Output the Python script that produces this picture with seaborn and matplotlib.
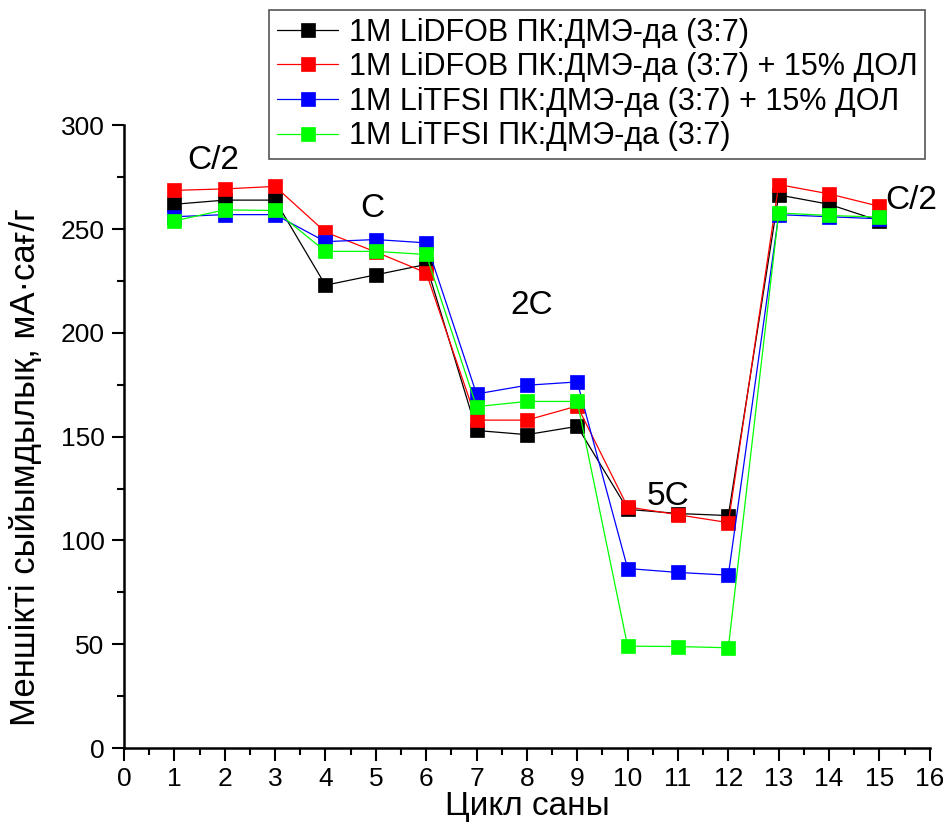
import matplotlib
matplotlib.use("Agg")
import matplotlib.pyplot as plt
import seaborn as sns
import pandas as pd
from matplotlib.ticker import MultipleLocator

cycles = list(range(1, 16))
labels = [
    "1M LiDFOB ПК:ДМЭ-да (3:7)",
    "1M LiDFOB ПК:ДМЭ-да (3:7) + 15% ДОЛ",
    "1M LiTFSI ПК:ДМЭ-да (3:7) + 15% ДОЛ",
    "1M LiTFSI ПК:ДМЭ-да (3:7)",
]
lidfob = [262, 264, 264, 223, 228, 233, 153, 151, 155, 115, 113, 112, 266.5, 262, 254]
lidfob_dol = [268.7, 269.4, 270.6, 248.6, 239, 229, 158, 158, 164.8, 116.2, 112.4, 108.6, 271.5, 267, 261]
litfsi_dol = [256, 257, 257, 244, 245, 243.4, 170.6, 174.8, 176.4, 86.5, 84.6, 83.3, 257, 256, 255]
litfsi = [254, 259.3, 259, 239.3, 239.3, 237.8, 164.5, 167, 167, 49.1, 48.9, 48.3, 257.8, 256.6, 255.8]
colors = ["#000000", "#FF0000", "#0000FF", "#00FF00"]

rate_labels = ["C/2", "C", "2C", "5C", "C/2"]
rate_x = [1.77, 4.94, 8.1, 10.8, 15.63]
rate_y = [283, 260, 213, 121, 264]

df = pd.DataFrame({
    "cycle": cycles * 4,
    "cap": lidfob + lidfob_dol + litfsi_dol + litfsi,
    "series": sum([[l] * len(cycles) for l in labels], []),
})

sns.set_style("ticks", {"text.color": "black", "axes.labelcolor": "black",
                        "xtick.color": "black", "ytick.color": "black",
                        "axes.edgecolor": "black"})
plt.rcParams["font.family"] = ["Liberation Sans", "DejaVu Sans"]

fig = plt.figure(figsize=(9.43, 8.25), dpi=100)
ax = fig.add_axes([0.1315, 0.0933, 0.8545, 0.7547])

for lab, col in zip(labels, colors):
    sub = df[df["series"] == lab]
    sns.lineplot(data=sub, x="cycle", y="cap", ax=ax, color=col, lw=0.9,
                 marker="s", markersize=10, markeredgewidth=0.5,
                 markeredgecolor=col, label=lab, estimator=None, sort=False)

ax.set_xlim(0, 16)
ax.set_ylim(0, 300)
ax.xaxis.set_major_locator(MultipleLocator(1))
ax.xaxis.set_minor_locator(MultipleLocator(0.5))
ax.yaxis.set_major_locator(MultipleLocator(50))
ax.yaxis.set_minor_locator(MultipleLocator(25))
ax.tick_params(which="major", direction="out", length=9, width=1.5, labelsize=19, pad=5,
               color="black", labelcolor="black")
ax.tick_params(which="minor", direction="out", length=5, width=1.5, color="black")
for s in ["top", "right"]:
    ax.spines[s].set_visible(False)
for s in ["left", "bottom"]:
    ax.spines[s].set_linewidth(1.8)
    ax.spines[s].set_color("black")

ax.set_xlabel("Цикл саны", fontsize=24, labelpad=0, color="black")
ax.set_ylabel("Меншікті сыйымдылық, мА·сағ/г", fontsize=25, color="black")
ax.yaxis.set_label_coords(-0.102, 0.451)

for t, x, y in zip(rate_labels, rate_x, rate_y):
    ax.text(x, y, t, fontsize=24, ha="center", va="center", color="black")

leg = ax.legend(loc="upper right", bbox_to_anchor=(0.981, 0.988),
                bbox_transform=fig.transFigure, fontsize=22, frameon=True,
                fancybox=False, edgecolor="#555555", framealpha=1,
                handlelength=2.0, handletextpad=0.35, borderpad=0.25,
                labelspacing=0.15, borderaxespad=0)
leg.get_frame().set_linewidth(1.2)
for txt in leg.get_texts():
    txt.set_color("black")

fig.savefig("out.png", dpi=100)
